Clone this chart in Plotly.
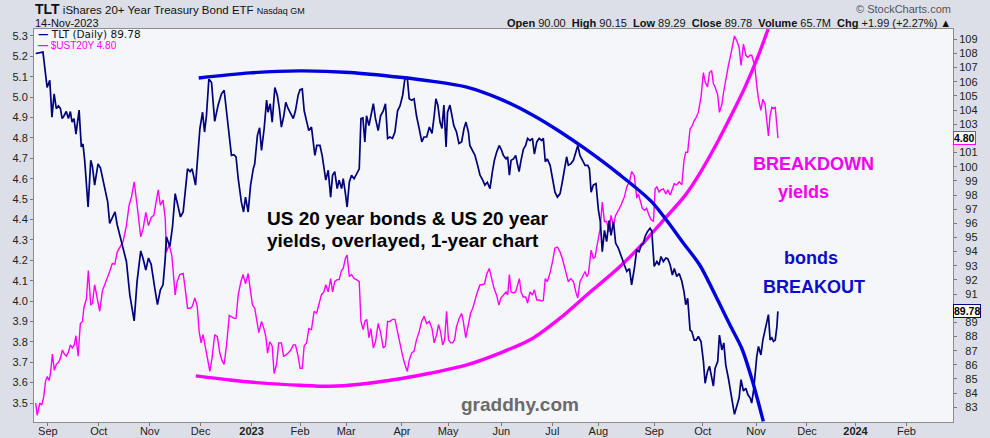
import plotly.graph_objects as go

# ---------------- data (x = trading-day number from 25-Aug-2022) ----------------
TLT_X = [0, 3.0, 4.7, 5.8, 6.7, 7.6, 8.5, 9.4, 10.2, 10.9, 11.7, 12.6, 13.5, 14.3, 15.0, 15.8, 16.6, 17.9, 18.8, 19.5,
         20.2, 20.9, 21.6, 22.7, 23.4, 24.3, 25.7, 26.7, 28.0, 29.7, 30.5, 31.6, 32.7, 33.6, 34.7, 36.0, 37.4, 38.8, 40.6, 41.8,
         43.3, 44.3, 45.4, 46.5, 47.6, 49.1, 50.2, 51.4, 52.5, 53.4, 53.9, 55.3, 56.4, 57.5, 58.4, 59.7, 60.8, 61.6, 62.6, 63.7,
         64.5, 65.9, 66.8, 67.7, 68.8, 69.6, 70.4, 71.4, 72.5, 73.8, 75.2, 76.6, 77.7, 78.7, 79.8, 80.7, 81.7, 82.6, 83.5, 84.8,
         85.7, 86.5, 87.6, 88.6, 89.7, 90.3, 91.4, 92.3, 93.1, 94.2, 95.2, 95.8, 96.7, 97.5, 98.6, 99.6, 100.4, 101.3, 102.3, 103.1,
         104.1, 105.2, 106.2, 107.1, 108.2, 109.0, 109.9, 110.7, 111.7, 112.6, 113.7, 115.1, 115.9, 117.2, 118.1, 118.9, 119.6, 120.6, 121.6, 122.4,
         123.3, 124.3, 125.1, 126.1, 126.8, 127.7, 128.4, 129.3, 130.2, 131.3, 132.3, 133.4, 134.1, 134.9, 135.7, 136.4, 137.4, 138.2, 139.2, 140.1,
         141.2, 142.2, 143.3, 144.2, 145.1, 146.0, 147.1, 148.1, 149.2, 150.2, 151.3, 152.2, 153.2, 154.0, 155.0, 156.0, 157.0, 158.1, 159.2, 160.1,
         161.2, 162.3, 163.4, 164.3, 165.0, 165.8, 166.7, 167.5, 168.3, 169.2, 169.8, 170.8, 171.6, 172.4, 173.5, 174.5, 175.6, 176.6, 177.4, 178.4,
         179.0, 180.2, 181.1, 182.2, 183.2, 184.3, 185.2, 186.2, 187.3, 188.3, 189.1, 190.1, 191.1, 192.1, 192.8, 193.9, 194.6, 195.3, 196.0, 197.0,
         197.9, 198.6, 199.3, 200.1, 201.1, 202.0, 202.8, 203.8, 204.8, 205.6, 206.6, 207.6, 208.6, 209.3, 210.1, 210.9, 212.1, 213.1, 214.1, 215.1,
         216.2, 217.1, 218.0, 218.9, 219.6, 220.6, 221.7, 222.8, 223.5, 224.4, 225.5, 226.5, 227.6, 228.3, 229.0, 229.9, 231.0, 232.0, 232.8, 233.6,
         234.5, 235.4, 236.4, 237.2, 238.2, 239.1, 240.2, 241.3, 242.7, 243.7, 244.8, 245.7, 246.8, 247.8, 248.8, 249.6, 250.6, 251.2, 252.2, 253.3,
         254.0, 255.0, 256.1, 257.0, 257.8, 258.8, 259.8, 260.6, 261.6, 262.5, 263.3, 264.3, 265.3, 266.4, 267.3, 268.0, 268.8, 269.8, 270.5, 271.5,
         272.3, 273.2, 274.3, 275.3, 276.0, 277.0, 277.8, 278.7, 279.4, 280.1, 281.2, 281.9, 282.9, 283.7, 284.5, 285.6, 286.6, 287.4, 288.1, 289.1,
         290.0, 290.8, 291.8, 292.8, 293.6, 294.6, 295.2, 296.1, 296.6, 297.3, 298.0, 299.0, 299.8, 300.7, 301.4, 302.1, 302.8, 303.5, 304.2, 304.9,
         305.6, 306.0]
TLT_V = [108.0, 108.1, 105.6, 106.1, 103.5, 105.15, 104.1, 104.3, 104.1, 103.4, 103.6, 103.9, 103.4, 103.9, 103.15, 103.4, 102.3, 104.0, 101.4, 101.6,
         100.45, 98.9, 97.15, 100.45, 100.0, 98.7, 100.2, 99.9, 98.8, 97.5, 96.0, 96.45, 96.8, 95.9, 95.15, 94.45, 93.3, 90.95, 89.1, 91.9,
         94.05, 93.5, 92.7, 93.55, 93.1, 91.4, 90.25, 91.3, 91.65, 93.5, 95.05, 94.35, 95.75, 98.1, 97.4, 96.45, 96.8, 98.2, 99.85, 99.65,
         99.85, 98.7, 100.45, 102.7, 103.85, 102.45, 103.6, 106.2, 105.95, 103.2, 104.35, 105.15, 105.4, 103.85, 102.2, 100.8, 100.85, 100.7, 99.15, 97.5,
         96.8, 97.85, 96.8, 98.7, 99.85, 100.2, 102.2, 102.75, 101.15, 102.7, 104.7, 103.85, 104.45, 103.15, 105.6, 105.05, 104.2, 102.8, 103.6, 104.55,
         104.1, 103.75, 103.4, 103.95, 105.05, 105.45, 105.5, 103.95, 103.25, 102.55, 102.8, 100.8, 101.5, 101.5, 100.8, 99.85, 99.05, 99.75, 97.85, 99.4,
         99.65, 98.45, 99.05, 98.45, 99.15, 98.1, 97.15, 98.9, 99.4, 99.15, 99.5, 99.85, 103.4, 103.45, 101.75, 103.6, 102.9, 103.65, 104.45, 103.4,
         102.55, 103.6, 103.95, 104.45, 102.0, 102.1, 102.0, 102.45, 103.95, 104.3, 105.05, 106.2, 106.3, 104.8, 104.7, 104.8, 103.6, 102.7, 101.75, 102.1,
         102.1, 102.8, 102.35, 103.6, 104.8, 104.35, 103.15, 102.7, 104.35, 101.4, 103.85, 104.35, 103.6, 102.9, 102.45, 101.65, 101.75, 102.7, 103.15, 102.45,
         101.5, 101.05, 100.8, 100.1, 99.4, 99.05, 98.7, 98.9, 98.45, 99.65, 100.45, 101.05, 101.5, 101.15, 100.8, 100.55, 100.7, 99.4, 100.45, 100.55,
         100.8, 100.2, 99.65, 100.45, 101.25, 101.5, 102.0, 101.85, 102.0, 100.9, 101.75, 102.0, 101.85, 102.0, 100.35, 100.55, 100.1, 99.15, 98.2, 97.85,
         98.1, 98.9, 99.85, 100.7, 100.1, 100.2, 100.45, 101.15, 101.5, 100.8, 100.45, 100.1, 100.1, 99.85, 98.2, 98.7, 98.8, 96.95, 96.1, 94.0,
         95.5, 94.7, 96.2, 95.15, 96.1, 94.6, 94.25, 93.75, 93.15, 92.6, 92.8, 91.65, 92.8, 94.1, 94.0, 94.45, 94.6, 95.05, 95.4, 95.65,
         95.45, 92.95, 93.3, 93.05, 93.65, 93.3, 93.55, 93.5, 93.05, 92.35, 92.8, 92.25, 92.45, 91.9, 91.15, 90.25, 90.7, 88.45, 88.35, 87.75,
         87.75, 88.0, 87.65, 86.25, 84.7, 85.55, 85.9, 85.2, 84.5, 85.75, 86.25, 88.1, 87.05, 87.55, 86.0, 85.05, 84.15, 83.2, 82.5, 83.2,
         83.65, 84.95, 84.15, 84.35, 83.9, 83.65, 83.3, 84.35, 85.3, 86.6, 87.3, 86.7, 87.75, 88.45, 88.95, 89.55, 87.75, 87.9, 87.65, 87.75,
         88.7, 89.78]

YLD_X = [0, 0.6, 1.7, 2.5, 3.3, 4.1, 4.8, 5.5, 6.05, 6.9, 7.7, 8.5, 9.4, 10.2, 11.0, 11.8, 12.7, 13.5, 14.3, 15.1,
         15.9, 16.6, 17.5, 18.4, 19.3, 19.9, 20.9, 21.7, 22.7, 23.4, 24.3, 25.4, 26.4, 27.5, 28.5, 29.4, 30.5, 31.6, 32.6, 33.6,
         34.7, 36.0, 37.4, 38.5, 39.5, 40.6, 41.8, 43.3, 44.3, 45.4, 46.5, 47.6, 48.7, 49.5, 50.5, 51.4, 52.5, 53.4, 53.9, 55.0,
         56.1, 57.5, 58.3, 59.4, 60.8, 61.6, 62.6, 63.8, 64.6, 65.6, 66.6, 67.4, 68.2, 69.0, 70.0, 70.8, 71.8, 72.7, 73.8, 74.9,
         75.9, 76.9, 77.7, 78.7, 79.8, 80.7, 81.8, 82.6, 83.5, 84.6, 85.5, 86.5, 87.6, 88.6, 89.4, 90.3, 91.2, 92.0, 93.1, 94.1,
         94.9, 95.6, 96.5, 97.5, 98.3, 99.3, 100.2, 101.3, 102.2, 103.1, 104.1, 105.2, 106.2, 107.1, 108.2, 109.0, 109.9, 110.7, 111.7, 112.6,
         113.7, 114.8, 115.8, 116.7, 117.8, 118.8, 119.6, 120.6, 121.6, 122.4, 123.3, 124.3, 125.1, 126.1, 126.8, 127.7, 128.4, 129.3, 130.2, 131.3,
         132.3, 133.4, 134.1, 135.0, 135.7, 136.5, 137.4, 138.2, 139.2, 140.1, 141.2, 142.2, 143.3, 144.2, 145.1, 146.0, 147.1, 148.1, 149.2, 150.2,
         151.3, 152.2, 153.2, 154.0, 155.0, 156.0, 157.0, 158.1, 159.1, 160.1, 161.2, 162.3, 163.4, 164.3, 165.3, 166.1, 166.9, 167.8, 168.6, 169.4,
         170.2, 171.1, 171.9, 172.7, 173.5, 174.6, 175.6, 176.3, 177.3, 178.4, 179.3, 180.2, 181.1, 182.1, 183.2, 184.1, 185.1, 185.9, 187.0, 188.0,
         188.9, 190.0, 191.0, 191.8, 192.8, 193.9, 194.6, 195.3, 196.0, 196.9, 197.9, 198.6, 199.4, 200.1, 201.0, 202.0, 202.8, 203.8, 204.8, 205.6,
         206.6, 207.6, 208.6, 209.3, 210.1, 210.9, 212.0, 213.1, 214.1, 215.1, 216.2, 217.1, 218.0, 218.9, 219.6, 220.6, 221.7, 222.8, 223.5, 224.4,
         225.5, 226.5, 227.2, 227.9, 229.0, 229.9, 230.6, 231.7, 232.7, 233.6, 234.5, 235.4, 236.4, 237.2, 238.2, 239.1, 240.2, 241.3, 242.7, 243.7,
         244.8, 245.7, 246.8, 247.8, 248.5, 249.3, 250.1, 251.0, 251.9, 252.9, 253.7, 254.7, 255.4, 256.1, 257.0, 257.8, 258.8, 259.8, 260.6, 261.6,
         262.5, 263.3, 264.3, 265.3, 266.4, 267.3, 268.0, 268.8, 269.8, 270.5, 271.5, 272.3, 273.2, 274.3, 275.3, 276.0, 277.0, 277.8, 278.7, 279.4,
         280.1, 281.2, 281.9, 282.9, 283.7, 284.5, 285.6, 286.6, 287.4, 288.1, 289.1, 290.0, 290.8, 291.8, 292.8, 293.6, 294.6, 295.2, 296.1, 296.6,
         297.3, 298.0, 299.0, 299.8, 300.7, 301.4, 302.1, 302.8, 303.5, 304.2, 304.9, 305.6, 306.0]
YLD_V = [3.50, 3.44, 3.50, 3.49, 3.53, 3.61, 3.63, 3.61, 3.64, 3.74, 3.66, 3.69, 3.70, 3.72, 3.76, 3.74, 3.73, 3.75, 3.785, 3.77,
         3.785, 3.83, 3.73, 3.89, 3.90, 3.97, 4.01, 4.15, 3.98, 3.99, 4.08, 4.02, 3.95, 4.05, 4.08, 4.11, 4.145, 4.185, 4.18, 4.24,
         4.26, 4.29, 4.37, 4.47, 4.51, 4.585, 4.47, 4.315, 4.355, 4.435, 4.37, 4.41, 4.42, 4.48, 4.545, 4.47, 4.495, 4.405, 4.24, 4.275,
         4.225, 4.03, 4.095, 4.13, 4.135, 4.065, 3.965, 3.965, 3.975, 4.015, 3.975, 3.85, 3.795, 3.835, 3.76, 3.72, 3.655, 3.72, 3.835, 3.825,
         3.745, 3.705, 3.69, 3.785, 3.93, 3.925, 3.915, 3.915, 4.03, 4.095, 4.13, 4.085, 4.135, 4.045, 3.98, 3.965, 3.91, 3.845, 3.90, 3.865,
         3.825, 3.745, 3.80, 3.78, 3.645, 3.69, 3.795, 3.795, 3.73, 3.735, 3.745, 3.76, 3.785, 3.785, 3.73, 3.67, 3.67, 3.78, 3.795, 3.865,
         3.86, 3.95, 3.94, 3.975, 4.03, 4.045, 4.08, 4.045, 4.11, 4.045, 4.095, 4.105, 4.105, 4.15, 4.16, 4.21, 4.225, 4.12, 4.13, 4.11,
         4.105, 4.095, 3.90, 3.86, 3.90, 3.91, 3.82, 3.865, 3.77, 3.80, 3.89, 3.845, 3.77, 3.78, 3.90, 3.90, 3.91, 3.91, 3.845, 3.80,
         3.73, 3.69, 3.655, 3.71, 3.745, 3.755, 3.81, 3.85, 3.90, 3.925, 3.89, 3.90, 3.865, 3.795, 3.835, 3.885, 3.85, 3.785, 3.81, 3.95,
         3.81, 3.795, 3.795, 3.81, 3.875, 3.915, 3.94, 3.90, 3.82, 3.885, 3.94, 3.965, 4.005, 4.045, 4.08, 4.08, 4.085, 4.13, 4.16, 4.105,
         4.065, 4.03, 3.98, 4.015, 4.03, 4.045, 4.03, 4.13, 4.045, 4.04, 4.045, 4.07, 4.11, 4.045, 4.02, 4.02, 3.99, 4.045, 4.03, 4.055,
         4.005, 4.005, 4.00, 4.005, 4.11, 4.095, 4.135, 4.195, 4.26, 4.265, 4.24, 4.21, 4.17, 4.12, 4.095, 4.11, 4.095, 4.04, 4.015, 4.095,
         4.12, 4.145, 4.12, 4.135, 4.25, 4.21, 4.215, 4.29, 4.355, 4.485, 4.39, 4.39, 4.34, 4.42, 4.37, 4.42, 4.445, 4.47, 4.51, 4.56,
         4.585, 4.635, 4.615, 4.505, 4.525, 4.485, 4.455, 4.445, 4.455, 4.42, 4.40, 4.39, 4.55, 4.56, 4.535, 4.545, 4.55, 4.525, 4.545, 4.52,
         4.55, 4.575, 4.57, 4.585, 4.57, 4.69, 4.73, 4.73, 4.845, 4.855, 4.885, 4.90, 4.925, 5.00, 5.12, 5.075, 5.05, 5.12, 5.13, 5.065,
         5.05, 5.01, 4.925, 4.965, 5.03, 5.09, 5.155, 5.21, 5.27, 5.30, 5.275, 5.245, 5.155, 5.26, 5.205, 5.195, 5.205, 5.205, 5.17, 5.14,
         5.055, 4.99, 4.935, 4.99, 4.965, 4.90, 4.81, 4.91, 4.95, 4.945, 4.95, 4.86, 4.80]

# hand-drawn trend arcs (analyst annotation)
BOND_ARC_X = [67.2, 88.3, 108.9, 129.5, 150.2, 163.8, 177.7, 191.4, 205.2, 216.2, 226.5, 240.2, 254.0, 267.7,
              273.9, 281.5, 286.3, 291.1, 295.4, 300.0]
BOND_ARC_Y = [106.27, 106.63, 106.77, 106.66, 106.32, 106.03, 105.62, 104.79, 103.62, 102.47, 101.27, 99.51, 97.51,
              94.45, 93.02, 90.47, 88.80, 87.17, 84.92, 82.0]
YLD_ARC_X = [66.0, 80.0, 92.4, 108.9, 121.3, 133.7, 150.2, 162.5, 177.4, 191.4, 205.0, 216.2, 228.5, 240.1, 249.2,
             258.3, 267.7, 274.0, 281.4, 287.1, 292.5, 297.4, 302.0]
YLD_ARC_Y = [3.633, 3.613, 3.599, 3.587, 3.582, 3.592, 3.619, 3.646, 3.686, 3.745, 3.818, 3.916, 4.043, 4.161, 4.268,
             4.390, 4.517, 4.630, 4.786, 4.918, 5.050, 5.187, 5.334]

MONTH_POS = [5, 26, 47, 68, 89, 109, 128, 151, 170, 192, 213, 232, 255, 275, 297, 318, 338, 359]
MONTH_LBL = ["Sep", "Oct", "Nov", "Dec", "<b>2023</b>", "Feb", "Mar", "Apr", "May", "Jun", "Jul", "Aug",
             "Sep", "Oct", "Nov", "Dec", "<b>2024</b>", "Feb"]
YLD_TICKS = [3.5, 3.6, 3.7, 3.8, 3.9, 4.0, 4.1, 4.2, 4.3, 4.4, 4.5, 4.6, 4.7, 4.8, 4.9, 5.0, 5.1, 5.2, 5.3]
YLD_TICK_LBL = ["3.5", "3.6", "3.7", "3.8", "3.9", "4.0", "4.1", "4.2", "4.3", "4.4", "4.5", "4.6", "4.7",
                "4.8", "4.9", "5.0", "5.1", "5.2", "5.3"]
TLT_TICKS = list(range(83, 110))
# labels 90 and 102 sit under the last-value boxes in the original
TLT_TICK_LBL = ["" if v in (90, 102) else (("\u2007" + str(v)) if v < 100 else str(v)) for v in TLT_TICKS]

FONT = "Liberation Sans, Arial, sans-serif"
NAVY = "#00007a"
MAG = "#ff00ff"

fig = go.Figure()
fig.add_trace(go.Scatter(x=TLT_X, y=TLT_V, yaxis="y2", mode="lines",
                         line=dict(color=NAVY, width=1.7), name="TLT (Daily)"))
fig.add_trace(go.Scatter(x=YLD_X, y=YLD_V, yaxis="y", mode="lines",
                         line=dict(color=MAG, width=1.4), name="$UST20Y"))
fig.add_trace(go.Scatter(x=BOND_ARC_X, y=BOND_ARC_Y, yaxis="y2", mode="lines",
                         line=dict(color="#0000dd", width=3.4, shape="spline", smoothing=0.8)))
fig.add_trace(go.Scatter(x=YLD_ARC_X, y=YLD_ARC_Y, yaxis="y", mode="lines",
                         line=dict(color=MAG, width=3.4, shape="spline", smoothing=0.8)))

ann = []
# header
ann.append(dict(xref="paper", yref="paper", x=-0.0015, y=1.05, xanchor="left", yanchor="middle", showarrow=False,
                text="<b><span style='font-size:14px'>TLT</span></b> iShares 20+ Year Treasury Bond ETF "
                     "<span style='font-size:9px'>Nasdaq GM</span>",
                font=dict(family=FONT, size=11.5, color="#111")))
ann.append(dict(xref="paper", yref="paper", x=-0.0015, y=1.016, xanchor="left", yanchor="middle", showarrow=False,
                text="14-Nov-2023", font=dict(family=FONT, size=11, color="#111")))
ann.append(dict(xref="paper", yref="paper", x=0.9995, y=1.05, xanchor="right", yanchor="middle", showarrow=False,
                text="\u00a9 StockCharts.com", font=dict(family=FONT, size=11, color="#555")))
ann.append(dict(xref="paper", yref="paper", x=0.9995, y=1.016, xanchor="right", yanchor="middle", showarrow=False,
                text="<b>Open</b> 90.00  <b>High</b> 90.15  <b>Low</b> 89.29  <b>Close</b> 89.78  "
                     "<b>Volume</b> 65.7M  <b>Chg</b> +1.99 (+2.27%) \u25b2",
                font=dict(family=FONT, size=11, color="#111")))
# legend
ann.append(dict(xref="paper", yref="paper", x=0.003, y=0.9885, xanchor="left", yanchor="middle", showarrow=False,
                text="<span style='color:%s'><b>\u2014</b></span> TLT (Daily) 89.78" % NAVY, borderpad=0,
                font=dict(family="DejaVu Sans, sans-serif", size=10.5, color="#111")))
ann.append(dict(xref="paper", yref="paper", x=0.003, y=0.957, xanchor="left", yanchor="middle", showarrow=False,
                text="<b>\u2014</b> $UST20Y 4.80", borderpad=0,
                font=dict(family=FONT, size=10, color=MAG)))
# last-value boxes
ann.append(dict(xref="paper", yref="y", x=1.0, y=4.80, xanchor="left", yanchor="middle", showarrow=False,
                text="<b>4.80</b>", font=dict(family=FONT, size=10.5, color="#000"),
                bgcolor="white", bordercolor=MAG, borderwidth=1, borderpad=0))
ann.append(dict(xref="paper", yref="y2", x=1.0, y=89.78, xanchor="left", yanchor="middle", showarrow=False,
                text="<b>89.78</b>", font=dict(family=FONT, size=10.5, color="#000"),
                bgcolor="white", bordercolor=NAVY, borderwidth=1, borderpad=0))
# chart commentary
ann.append(dict(xref="x", yref="y", x=94.5, y=4.405, xanchor="left", yanchor="middle", showarrow=False,
                text="<b>US 20 year bonds &amp; US 20 year</b>", font=dict(family=FONT, size=19, color="#000")))
ann.append(dict(xref="x", yref="y", x=94.5, y=4.299, xanchor="left", yanchor="middle", showarrow=False,
                text="<b>yields, overlayed, 1-year chart</b>", font=dict(family=FONT, size=19, color="#000")))
ann.append(dict(xref="x", yref="y", x=320.7, y=4.673, xanchor="center", yanchor="middle", showarrow=False,
                text="<b>BREAKDOWN</b>", font=dict(family=FONT, size=18, color="#f000f0")))
ann.append(dict(xref="x", yref="y", x=316.7, y=4.534, xanchor="center", yanchor="middle", showarrow=False,
                text="<b>yields</b>", font=dict(family=FONT, size=18, color="#f000f0")))
ann.append(dict(xref="x", yref="y", x=319.7, y=4.213, xanchor="center", yanchor="middle", showarrow=False,
                text="<b>bonds</b>", font=dict(family=FONT, size=18, color="#0a0ad0")))
ann.append(dict(xref="x", yref="y", x=320.9, y=4.069, xanchor="center", yanchor="middle", showarrow=False,
                text="<b>BREAKOUT</b>", font=dict(family=FONT, size=18, color="#0a0ad0")))
ann.append(dict(xref="x", yref="y", x=199.5, y=3.492, xanchor="center", yanchor="middle", showarrow=False,
                text="<b>graddhy.com</b>", font=dict(family=FONT, size=19, color="#6a6a6a")))

axis_common = dict(showgrid=False, zeroline=False, showline=True, linecolor="#8c8c8c", linewidth=1,
                   automargin=False, ticks="outside", ticklen=3, tickcolor="#777",
                   tickfont=dict(family=FONT, size=11, color="#222"))

fig.update_layout(
    width=990, height=438,
    margin=dict(l=34, r=37, t=29, b=16),
    paper_bgcolor="#dcdfe7", plot_bgcolor="#f5f6fa",
    showlegend=False,
    xaxis=dict(range=[-0.7, 378.2], tickmode="array", tickvals=MONTH_POS, ticktext=MONTH_LBL,
               mirror=True, ticklabelstandoff=-4, **axis_common),
    yaxis=dict(range=[3.407, 5.334], tickmode="array", tickvals=YLD_TICKS, ticktext=YLD_TICK_LBL,
               side="left", mirror=False, **axis_common),
    yaxis2=dict(range=[81.96, 109.73], tickmode="array", tickvals=TLT_TICKS, ticktext=TLT_TICK_LBL,
                side="right", overlaying="y", **axis_common),
    annotations=ann,
)

# remove the browser's default page margin so the 990x438 figure fills the window exactly
fig.write_html("out.html",
               config={"displayModeBar": False},
               post_script="document.body.style.margin='0';document.body.style.padding='0';"
                           "document.body.style.overflow='hidden';")
